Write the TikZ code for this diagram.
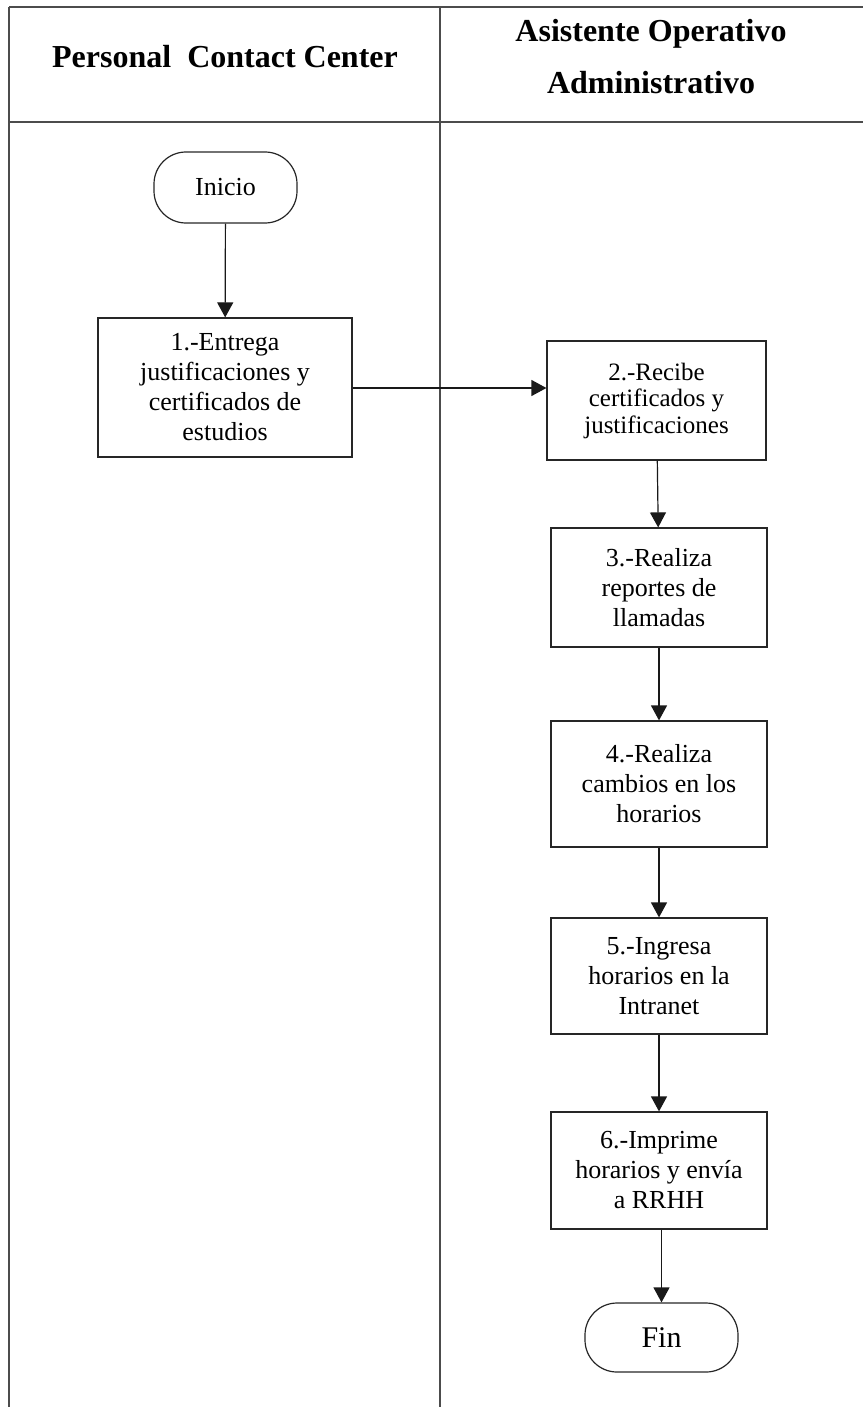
\documentclass[tikz,border=0pt]{standalone}
\usepackage{fontspec}
\setmainfont{Liberation Serif}
\usetikzlibrary{arrows.meta}
\begin{document}
\begin{tikzpicture}[x=1pt,y=-1pt,
  frameline/.style={line width=1.2pt,draw=black!70},
  stepbox/.style={draw=black!85,line width=1.2pt,align=center,inner sep=0pt,
    font=\fontsize{26}{30}\selectfont},
  term/.style={draw=black!85,line width=1.2pt,rounded corners=32pt,inner sep=0pt},
  flow/.style={line width=1.2pt,draw=black!90,-{Triangle[length=15pt,width=16pt]}},
  head/.style={font=\fontsize{32}{52}\selectfont\bfseries,align=center}]
\useasboundingbox (0,0) rectangle (863,1407);
% lanes
\coordinate (tl) at (9,7);
\coordinate (tr) at (863,7);
\coordinate (hl) at (9,122);
\coordinate (hr) at (863,122);
\coordinate (bl) at (9,1407);
\coordinate (dt) at (440,7);
\coordinate (db) at (440,1407);
\draw[frameline] (tl) -- (tr);
\draw[frameline] (hl) -- (hr);
\draw[frameline] (tl) -- (bl);
\draw[frameline] (dt) -- (db);
\node[head] (h1) at (225,57) {Personal\ \ Contact Center};
\node[head] (h2) at (651,57) {Asistente Operativo\\Administrativo};
% nodes
\node[term,minimum width=143pt,minimum height=71pt,font=\fontsize{26}{30}\selectfont] (ini) at (225.5,187.5) {Inicio};
\node[stepbox,minimum width=254pt,minimum height=139pt] (s1) at (225,387.5) {1.-Entrega\\justificaciones y\\certificados de\\estudios};
\node[stepbox,minimum width=219pt,minimum height=119pt,font=\fontsize{25}{26.5}\selectfont] (s2) at (656.5,400.5) {2.-Recibe\\certificados y\\justificaciones};
\node[stepbox,minimum width=216pt,minimum height=119pt] (s3) at (659,587.5) {3.-Realiza\\reportes de\\llamadas};
\node[stepbox,minimum width=216pt,minimum height=126pt] (s4) at (659,784) {4.-Realiza\\cambios en los\\horarios};
\node[stepbox,minimum width=216pt,minimum height=116pt] (s5) at (659,976) {5.-Ingresa\\horarios en la\\Intranet};
\node[stepbox,minimum width=216pt,minimum height=117pt] (s6) at (659,1170.5) {6.-Imprime\\horarios y envía\\a RRHH};
\node[term,minimum width=153pt,minimum height=69pt,font=\fontsize{30}{34}\selectfont] (fin) at (661.5,1337.5) {Fin};
% connectors
\draw[flow] (ini) -- (s1);
\draw[flow] (s1.east |- 0,388) -- (s2.west |- 0,388);
\draw[flow] (s2) -- (s3);
\draw[flow] (s3) -- (s4);
\draw[flow] (s4) -- (s5);
\draw[flow] (s5) -- (s6);
\draw[flow] (s6.south -| fin) -- (fin);
\end{tikzpicture}
\end{document}
